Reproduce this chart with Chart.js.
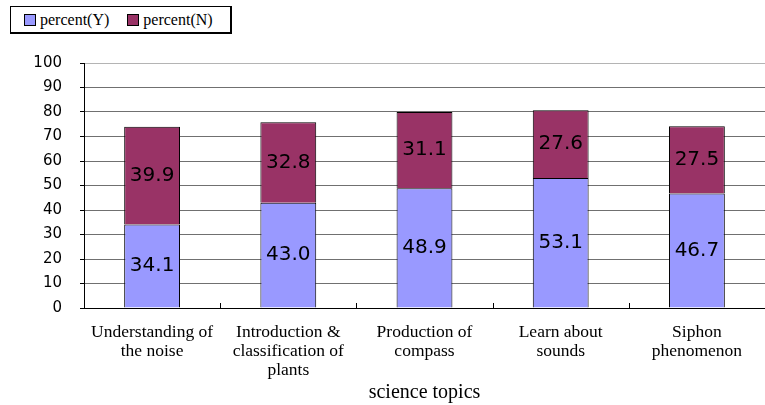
<!DOCTYPE html>
<html lang="en">
<head>
  <meta charset="UTF-8">
  <title>Science Topics</title>
  <script src="https://cdn.jsdelivr.net/npm/chart.js"></script>
  <style>
    html, body {
      margin: 0;
      padding: 0;
      background: #fff;
    }
    .wrap {
      position: relative;
      width: 765px;
      height: 405px;
    }
    .legend {
      position: absolute;
      left: 10px;
      top: 6px;
      width: 219px;
      height: 25px;
      border: 1px solid #000;
      border-right-width: 2px;
      border-bottom-width: 2px;
      background: #fff;
      font-family: 'Liberation Serif', serif;
      font-size: 16px;
      display: flex;
      align-items: center;
      box-sizing: content-box;
    }
    .legend span {
      display: inline-flex;
      align-items: center;
      margin-left: 13px;
    }
    .legend span + span {
      margin-left: 18px;
    }
    .swatch {
      display: inline-block;
      width: 10px;
      height: 10px;
      border: 1px solid #000;
      margin-right: 4px;
    }
  </style>
</head>
<body>
  <div class="wrap">
    <canvas id="chart" width="765" height="405"></canvas>
    <div class="legend" id="legend"></div>
  </div>

  <script>
    // Chart data
    const categories = [
      ['Understanding of', 'the noise'],
      ['Introduction &', 'classification of', 'plants'],
      ['Production of', 'compass'],
      ['Learn about', 'sounds'],
      ['Siphon', 'phenomenon']
    ];
    const seriesNames = ['percent(Y)', 'percent(N)'];
    const percentY = [34.1, 43.0, 48.9, 53.1, 46.7];
    const percentN = [39.9, 32.8, 31.1, 27.6, 27.5];
    const yTicks = [0, 10, 20, 30, 40, 50, 60, 70, 80, 90, 100];

    const colors = ['#9999FF', '#993366'];

    // Legend (html)
    const legend = document.getElementById('legend');
    seriesNames.forEach((name, i) => {
      const item = document.createElement('span');
      item.innerHTML = '<i class="swatch" style="background:' + colors[i] + '"></i>' + name;
      legend.appendChild(item);
    });

    // Values written in the middle of each segment
    const segmentLabels = {
      id: 'segmentLabels',
      afterDatasetsDraw(chart) {
        const c = chart.ctx;
        c.save();
        c.font = '20px "DejaVu Sans", sans-serif';
        c.fillStyle = '#000';
        c.textAlign = 'center';
        c.textBaseline = 'middle';
        chart.data.datasets.forEach((ds, di) => {
          chart.getDatasetMeta(di).data.forEach((bar, i) => {
            const mid = (bar.y + bar.base) / 2;
            c.fillText(ds.data[i].toFixed(1), bar.x, mid);
          });
        });
        c.restore();
      }
    };

    // Small marks between categories, on the axis
    const categoryTicks = {
      id: 'categoryTicks',
      afterDatasetsDraw(chart) {
        const area = chart.chartArea;
        const c = chart.ctx;
        const step = (area.right - area.left) / categories.length;
        c.save();
        c.strokeStyle = '#000';
        c.lineWidth = 1;
        for (let i = 1; i < categories.length; i++) {
          const px = Math.round(area.left + step * i) + 0.5;
          c.beginPath();
          c.moveTo(px, area.bottom);
          c.lineTo(px, area.bottom - 5);
          c.stroke();
        }
        c.restore();
      }
    };

    const ctx = document.getElementById('chart').getContext('2d');
    new Chart(ctx, {
      type: 'bar',
      data: {
        labels: categories,
        datasets: [
          {
            label: seriesNames[0],
            data: percentY,
            backgroundColor: colors[0],
            borderColor: '#000',
            borderWidth: 1,
            barPercentage: 0.41,
            categoryPercentage: 1
          },
          {
            label: seriesNames[1],
            data: percentN,
            backgroundColor: colors[1],
            borderColor: '#000',
            borderWidth: 1,
            barPercentage: 0.41,
            categoryPercentage: 1
          }
        ]
      },
      options: {
        responsive: false,
        animation: false,
        layout: {
          padding: { top: 63, right: 0, left: 0, bottom: 0 }
        },
        plugins: {
          legend: { display: false },
          tooltip: { enabled: false }
        },
        scales: {
          x: {
            stacked: true,
            grid: { display: false },
            border: { color: '#000', width: 1 },
            ticks: {
              color: '#000',
              font: { family: 'Liberation Serif', size: 17.5, lineHeight: 1.09 },
              padding: 7,
              maxRotation: 0,
              autoSkip: false
            },
            title: {
              display: true,
              text: 'science topics',
              color: '#000',
              font: { family: 'Liberation Serif', size: 20 },
              padding: { top: 2, bottom: 0 }
            },
            afterFit(scale) {
              scale.height = 97;
            }
          },
          y: {
            stacked: true,
            min: 0,
            max: 100,
            afterBuildTicks(scale) {
              scale.ticks = yTicks.map(v => ({ value: v }));
            },
            grid: {
              color: (c) => (c.tick && c.tick.value === 100 ? '#b4b4b4' : '#707070'),
              lineWidth: 1,
              tickLength: 4,
              tickColor: '#000'
            },
            border: { color: '#000', width: 1 },
            ticks: {
              color: '#000',
              font: { family: 'DejaVu Sans', size: 15 },
              padding: 18
            },
            afterFit(scale) {
              scale.width = 84;
            }
          }
        }
      },
      plugins: [segmentLabels, categoryTicks]
    });
  </script>
</body>
</html>
